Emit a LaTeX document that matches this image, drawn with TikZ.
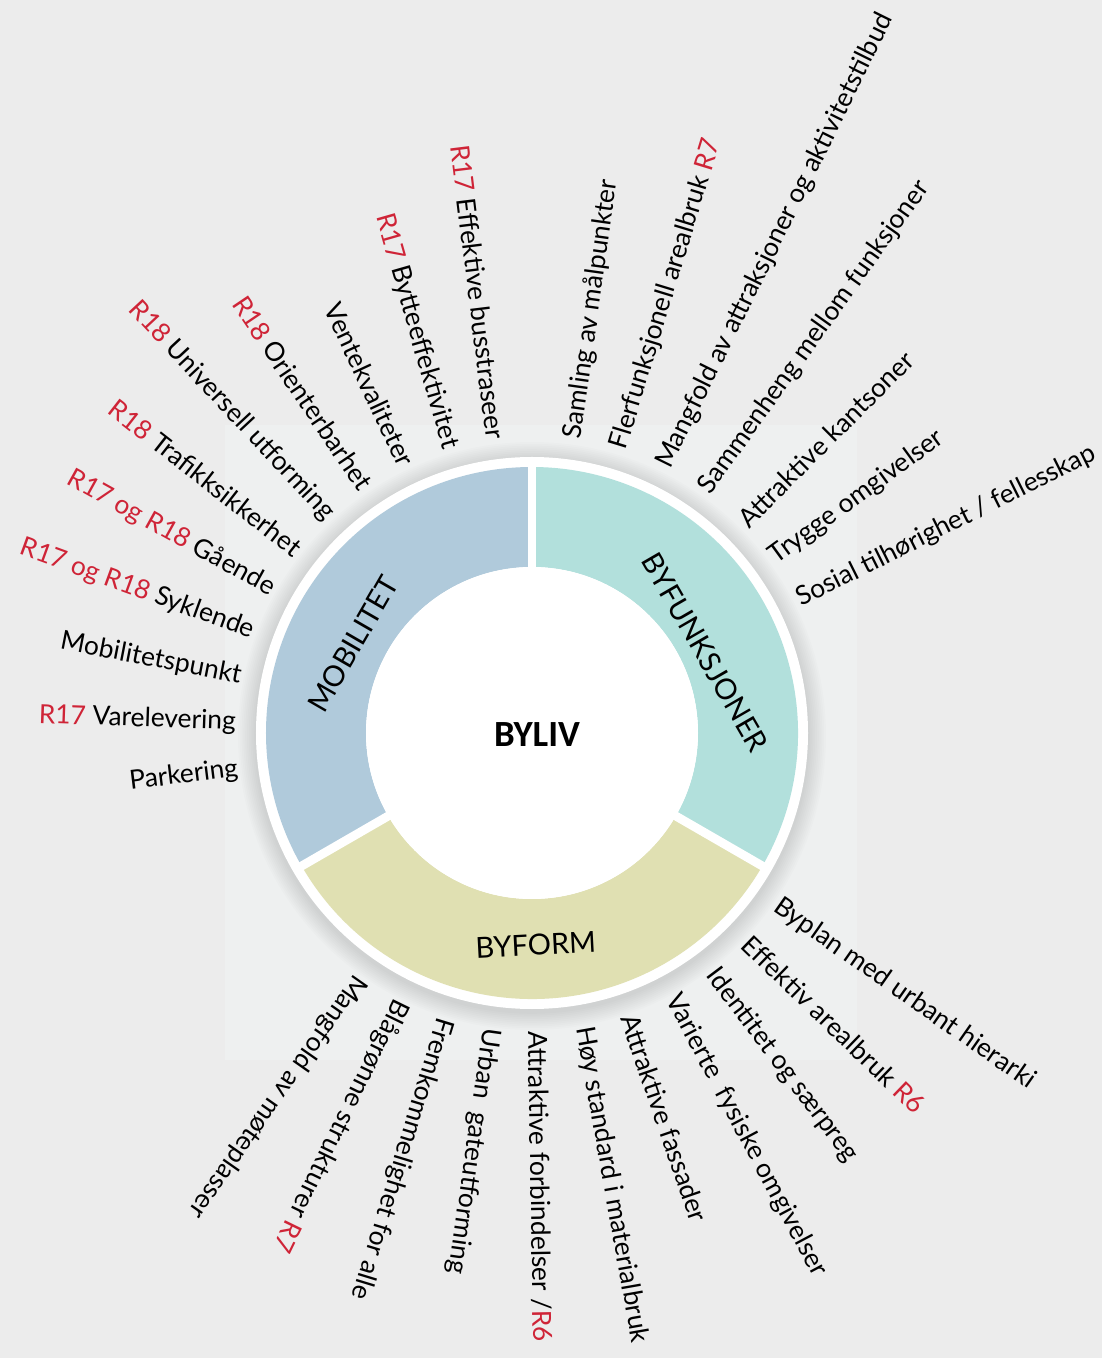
\documentclass[tikz,border=0pt]{standalone}
\usepackage{fontspec}
\setmainfont{Lato}
\newfontfamily\bylivfont{Carlito}
\usetikzlibrary{positioning}

\definecolor{bakgrunn}{HTML}{ECECEC}
\definecolor{lysflate}{HTML}{EEF0F0}
\definecolor{mobblaa}{HTML}{B0CADB}
\definecolor{funkgronn}{HTML}{B2E0DC}
\definecolor{formgul}{HTML}{E0E0B2}
\definecolor{rkrav}{HTML}{CF2437}
\newcommand{\rk}[1]{\textcolor{rkrav}{#1}}

\tikzset{
  etikett/.style={font=\fontsize{15}{18}\selectfont, inner sep=0pt},
  sektor/.style={font=\fontsize{16.5}{20}\selectfont, inner sep=0pt},
}

\begin{document}
\begin{tikzpicture}[x=0.02cm, y=0.02cm] % 1 enhet = 1 piksel

    % Bakgrunn og lys flate bak ringen
    \fill[bakgrunn] (-532,-625) rectangle (570,733);
    \useasboundingbox (-532,-625) rectangle (570,733);
    \fill[lysflate] (-307,-327) rectangle (325,308);

    % Myk skygge rundt ringen
    \foreach \i in {1,...,10} {
        \fill[black, opacity=0.012] (0,-3) circle (276+1.8*\i);
    }
    \fill[white] (0,0) circle (276);

    % De tre sektorene
    \fill[mobblaa] (90:266) arc[start angle=90, end angle=210, radius=266]
        -- (210:166) arc[start angle=210, end angle=90, radius=166] -- cycle;
    \fill[formgul] (210:266) arc[start angle=210, end angle=330, radius=266]
        -- (330:166) arc[start angle=330, end angle=210, radius=166] -- cycle;
    \fill[funkgronn] (-30:266) arc[start angle=-30, end angle=90, radius=266]
        -- (90:166) arc[start angle=90, end angle=-30, radius=166] -- cycle;

    % Hvite skillelinjer og midtsirkel
    \foreach \vink in {90,210,330} {
        \draw[white, line width=5pt] (0,0) -- (\vink:272);
    }
    \fill[white] (0,0) circle (166);

    % Navn i sentrum og i sektorene
    \node[font=\bylivfont\bfseries\fontsize{21}{25}\selectfont] (byliv) at (5,-2) {BYLIV};
    \node[sektor, rotate=60] (mob) at (153.5:200) {MOBILITET};
    \node[sektor, rotate=-60] (funk) at (25:191) {BYFUNKSJONER};
    \node[sektor, rotate=3] (form) at (-89:212) {BYFORM};

    % Mobilitet (venstre side)
    \foreach \tekst [count=\i] in {
        {\rk{R17} Effektive busstraseer},
        {\rk{R17} Bytteeffektivitet},
        {Ventekvaliteter},
        {\rk{R18} Orienterbarhet},
        {\rk{R18} Universell utforming},
        {\rk{R18} Trafikksikkerhet},
        {\rk{R17 og R18} Gående},
        {\rk{R17 og R18} Syklende},
        {Mobilitetspunkt},
        {\rk{R17} Varelevering},
        {Parkering}} {
        \pgfmathsetmacro\vink{88+9*\i}
        \pgfmathsetmacro\rot{\vink-180}
        \node[etikett, anchor=east, rotate=\rot] (m\i) at (\vink:296) {\tekst};
    }

    % Byfunksjoner (høyre side)
    \foreach \vink/\tekst [count=\i] in {
        82/{Samling av målpunkter},
        73/{Flerfunksjonell arealbruk \rk{R7}},
        63.7/{Mangfold av attraksjoner og aktivitetstilbud},
        54.5/{Sammenheng mellom funksjoner},
        45/{Attraktive kantsoner},
        36/{Trygge omgivelser},
        26.5/{Sosial tilhørighet / fellesskap}} {
        \node[etikett, anchor=west, rotate=\vink] (f\i) at (\vink:297) {\tekst};
    }

    % Byform (nederst)
    \foreach \tekst [count=\i] in {
        {Byplan med urbant hierarki},
        {Effektiv arealbruk \rk{R6}},
        {Identitet og særpreg},
        {Varierte\hspace{0.25em} fysiske omgivelser},
        {Attraktive fassader},
        {Høy standard i materialbruk},
        {Attraktive forbindelser /\rk{R6}},
        {Urban\hspace{0.25em} gateutforming},
        {Fremkommelighet for alle},
        {Blågrønne strukturer \rk{R7}},
        {Mangfold av møteplasser}} {
        \pgfmathsetmacro\vink{-26-9*\i}
        \node[etikett, anchor=west, rotate=\vink] (b\i) at (\vink:298) {\tekst};
    }
\end{tikzpicture}
\end{document}
